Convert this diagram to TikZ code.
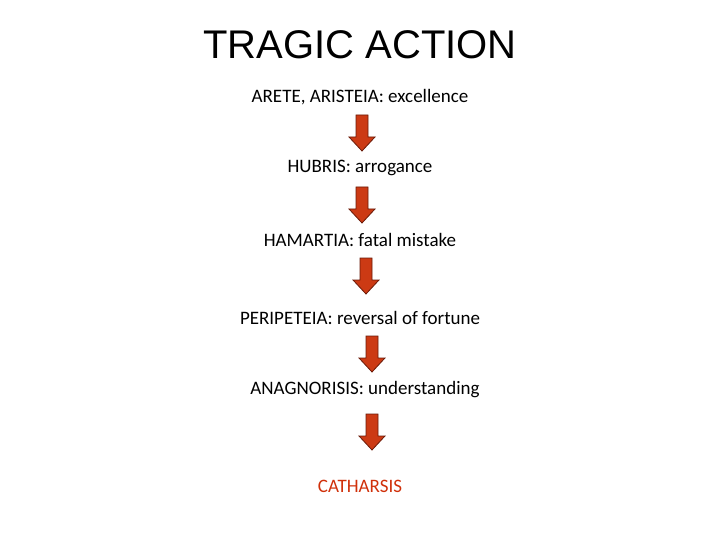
\documentclass[tikz,border=0pt]{standalone}
\usepackage{fontspec}
\setmainfont{Carlito}
\newfontfamily\titlefont{Liberation Sans}
\definecolor{arr}{HTML}{CC3A14}
\definecolor{arredge}{HTML}{6A1A08}
\definecolor{cath}{HTML}{D0300A}
\begin{document}
\begin{tikzpicture}[x=1pt,y=-1pt,
  lbl/.style={font=\fontsize{19}{22}\selectfont, inner sep=0pt},
  blk/.style={fill=arr, draw=arredge, line width=0.8pt}]
\useasboundingbox (0,0) rectangle (720,540);
\node[font=\titlefont\fontsize{40}{44}\selectfont] (title) at (360,45) {TRAGIC ACTION};
\node[lbl] (a) at (360,97) {ARETE, ARISTEIA: excellence};
\node[lbl] (b) at (360,168) {HUBRIS: arrogance};
\node[lbl] (c) at (360,240) {HAMARTIA: fatal mistake};
\node[lbl] (d) at (360,318) {PERIPETEIA: reversal of fortune};
\node[lbl] (e) at (365,390) {ANAGNORISIS: understanding};
\node[lbl, text=cath] (f) at (360,486) {CATHARSIS};
\foreach \x/\t in {362/115, 362/187, 366/258, 372/336, 372/414}{
  \draw[blk] (\x-6,\t) -- (\x+6,\t) -- (\x+6,\t+22) -- (\x+13,\t+22) -- (\x,\t+36)
    -- (\x-13,\t+22) -- (\x-6,\t+22) -- cycle;
}
\end{tikzpicture}
\end{document}
